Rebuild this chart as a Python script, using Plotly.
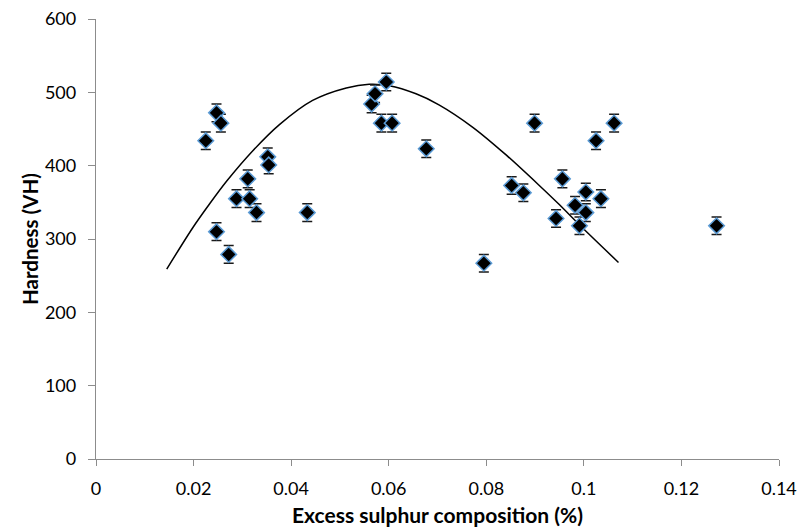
import plotly.graph_objects as go

# Measured hardness against excess sulphur composition
sulphur_pct = [0.0225, 0.0247, 0.0256, 0.0247, 0.0272, 0.0288, 0.0311, 0.0315, 0.0329,
               0.0352, 0.0354, 0.0433, 0.0565, 0.0572, 0.0595, 0.0585, 0.0607, 0.0677,
               0.0795, 0.0852, 0.0876, 0.0899, 0.0943, 0.0956, 0.0982, 0.0991, 0.1004,
               0.1004, 0.1025, 0.1035, 0.1062, 0.1272]
hardness_vh = [434, 472, 458, 310, 279, 355, 382, 355, 336,
               412, 401, 336, 484, 498, 514, 458, 458, 423,
               267, 373, 363, 458, 328, 382, 346, 318, 364,
               336, 434, 355, 458, 318]
hardness_err = [12] * len(hardness_vh)

# Trend curve through the data
trend_x = [0.0145, 0.0198, 0.0233, 0.0268, 0.0321, 0.0376, 0.0444, 0.0513, 0.0560,
           0.0601, 0.0656, 0.0703, 0.0771, 0.0840, 0.0907, 0.0948, 0.0996, 0.1071]
trend_y = [259, 315, 348, 379, 420, 456, 489, 506, 511,
           509, 498, 483, 453, 415, 374, 348, 316, 268]

x_tick_vals = [0, 0.02, 0.04, 0.06, 0.08, 0.1, 0.12, 0.14]
x_tick_text = ["0", "0.02", "0.04", "0.06", "0.08", "0.1", "0.12", "0.14"]
y_tick_vals = [0, 100, 200, 300, 400, 500, 600]
y_tick_text = ["0", "100", "200", "300", "400", "500", "600"]

FONT = "Lato, Carlito, Calibri, sans-serif"
AXIS_GREY = "#8c8c8c"

fig = go.Figure()

fig.add_trace(go.Scatter(
    x=trend_x, y=trend_y, mode="lines",
    line=dict(color="#000000", width=1.5, shape="spline", smoothing=0.8),
    hoverinfo="skip", showlegend=False,
))

fig.add_trace(go.Scatter(
    x=sulphur_pct, y=hardness_vh, mode="markers",
    marker=dict(symbol="diamond", size=12, color="#000000",
                line=dict(color="#5b9bd5", width=1.5)),
    error_y=dict(type="data", array=hardness_err, visible=True,
                 color="#1a1a1a", thickness=1.5, width=5),
    showlegend=False,
))

fig.update_layout(
    width=805, height=532,
    margin=dict(l=96, r=26, t=19, b=73, autoexpand=False),
    paper_bgcolor="white", plot_bgcolor="white",
    font=dict(family=FONT, size=18, color="#000000"),
)

fig.update_xaxes(
    range=[0, 0.14], tickvals=x_tick_vals, ticktext=x_tick_text,
    automargin=False,
    showgrid=False, zeroline=False,
    showline=True, linecolor=AXIS_GREY, linewidth=1.3,
    ticks="outside", tickcolor=AXIS_GREY, ticklen=6, tickwidth=1.3,
    ticklabelstandoff=7,
    tickfont=dict(family=FONT, size=18, color="#000000"),
    title=dict(text="<b>Excess sulphur composition (%)</b>",
               font=dict(family=FONT, size=21), standoff=10),
)
fig.update_yaxes(
    range=[0, 600], tickvals=y_tick_vals, ticktext=y_tick_text,
    automargin=False,
    showgrid=False, zeroline=False,
    showline=True, linecolor=AXIS_GREY, linewidth=1.3,
    ticks="outside", tickcolor=AXIS_GREY, ticklen=7, tickwidth=1.3,
    ticklabelstandoff=8,
    tickfont=dict(family=FONT, size=18, color="#000000"),
    title=dict(text="<b>Hardness (VH)</b>",
               font=dict(family=FONT, size=20.5), standoff=0),
)

fig.write_html("out.html")
